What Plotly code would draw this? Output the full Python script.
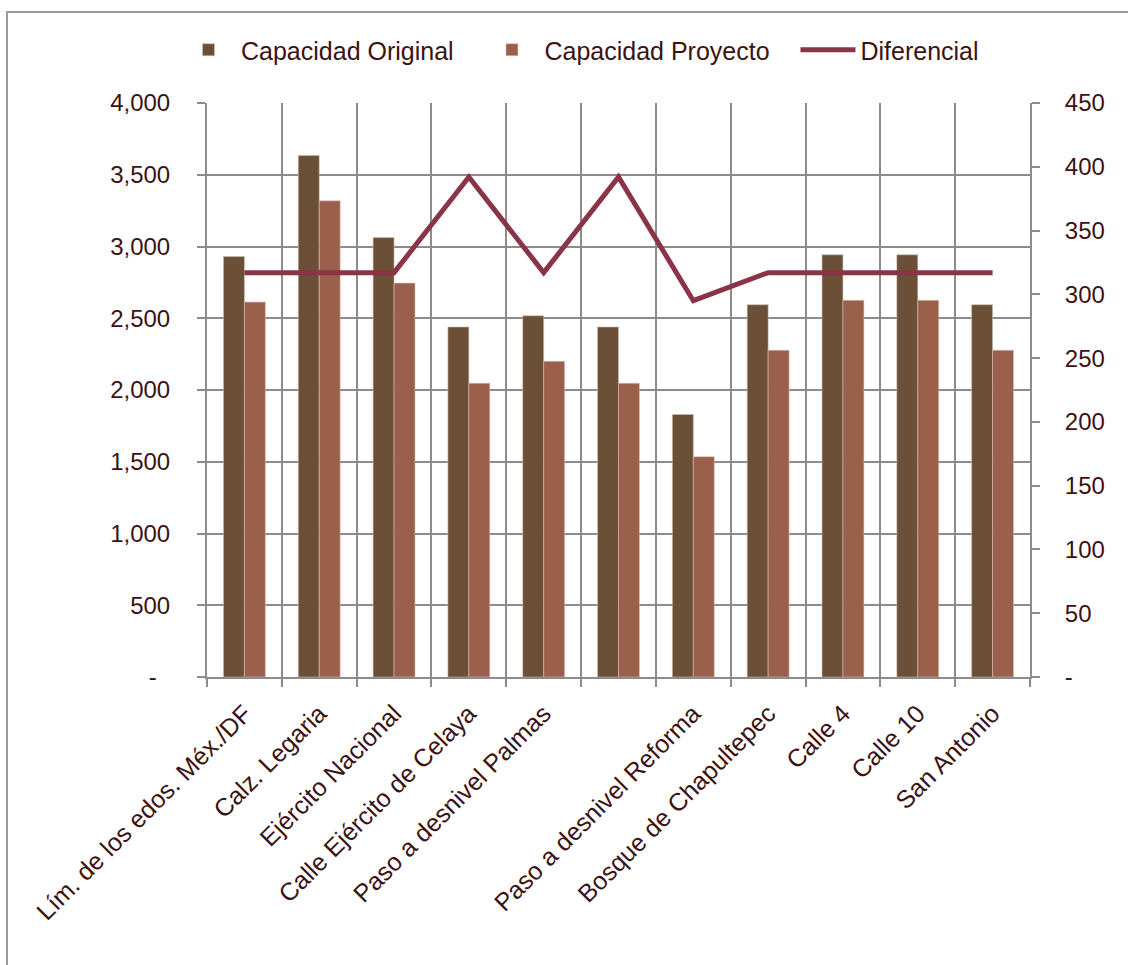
import plotly.graph_objects as go

categories = ["Lím. de los edos. Méx./DF", "Calz. Legaria", "Ejército Nacional",
              "Calle Ejército de Celaya", "Paso a desnivel Palmas", " ",
              "Paso a desnivel Reforma", "Bosque de Chapultepec", "Calle 4",
              "Calle 10", "San Antonio"]
capacidad_original = [2930, 3635, 3062, 2439, 2517, 2439, 1830, 2594, 2942, 2942, 2594]
capacidad_proyecto = [2613, 3318, 2745, 2047, 2200, 2047, 1535, 2277, 2625, 2625, 2277]
diferencial = [317, 317, 317, 392, 317, 392, 295, 317, 317, 317, 317]

left_ticks = [0, 500, 1000, 1500, 2000, 2500, 3000, 3500, 4000]
left_labels = ["-\u00a0\u00a0", "500", "1,000", "1,500", "2,000", "2,500", "3,000", "3,500", "4,000"]
right_ticks = [0, 50, 100, 150, 200, 250, 300, 350, 400, 450]
right_labels = ["-", "50", "100", "150", "200", "250", "300", "350", "400", "450"]

TXT = "#3C1212"
GRID = "#8F8B8B"
FONT = "Liberation Sans, Arial, sans-serif"
SP = "\u00a0" * 3

fig = go.Figure()
fig.add_trace(go.Bar(name="Capacidad Original" + SP, x=categories, y=capacidad_original,
                     marker=dict(color="#6B4F36", line=dict(width=0.6, color="#CBBFB3"))))
fig.add_trace(go.Bar(name="Capacidad Proyecto" + SP, x=categories, y=capacidad_proyecto,
                     marker=dict(color="#9A604B", line=dict(width=0.6, color="#D8BFB5"))))
fig.add_trace(go.Scatter(name="Diferencial", x=categories, y=diferencial, yaxis="y2",
                         mode="lines", line=dict(color="#8B3447", width=5)))

W, H = 1128, 965
L, R, T, B = 207, 98, 103, 288
pw, ph = W - L - R, H - T - B

def px_x(px):
    return (px - L) / pw

def px_y(py):
    return (H - B - py) / ph

fig.update_layout(
    width=W, height=H,
    margin=dict(l=L, r=R, t=T, b=B, autoexpand=False),
    paper_bgcolor="white", plot_bgcolor="white",
    font=dict(family=FONT, size=24, color=TXT),
    barmode="group", bargap=0.44, bargroupgap=0,
    showlegend=True,
    legend=dict(orientation="h", x=px_x(580), y=px_y(50), xanchor="center", yanchor="middle",
                font=dict(size=25, color=TXT), itemwidth=55, tracegroupgap=0,
                bgcolor="rgba(0,0,0,0)"),
    xaxis=dict(type="category", tickangle=-45, tickson="boundaries", ticks="outside",
               ticklen=8, tickcolor=GRID, tickwidth=2, showgrid=True, gridcolor=GRID,
               gridwidth=2, showline=True, linecolor=GRID, linewidth=2,
               ticklabelstandoff=10, tickfont=dict(size=25, color=TXT)),
    yaxis=dict(range=[0, 4000], tickvals=left_ticks, ticktext=left_labels, ticks="outside",
               ticklen=8, tickcolor=GRID, tickwidth=2, showgrid=True, gridcolor=GRID,
               gridwidth=2, showline=True, linecolor=GRID, linewidth=2, zeroline=False,
               ticklabelstandoff=22, tickfont=dict(size=24, color=TXT)),
    yaxis2=dict(range=[0, 450], tickvals=right_ticks, ticktext=right_labels, overlaying="y",
                side="right", ticks="outside", ticklen=8, tickcolor=GRID, tickwidth=2,
                showgrid=False, showline=True, linecolor=GRID, linewidth=2, zeroline=False,
                ticklabelstandoff=20, tickfont=dict(size=24, color=TXT)),
    shapes=[dict(type="rect", xref="paper", yref="paper",
                 x0=px_x(7), x1=px_x(1140), y0=px_y(980), y1=px_y(12),
                 line=dict(color="#9A9A9A", width=2), fillcolor="rgba(0,0,0,0)", layer="below")],
)

fig.write_html("out.html")
